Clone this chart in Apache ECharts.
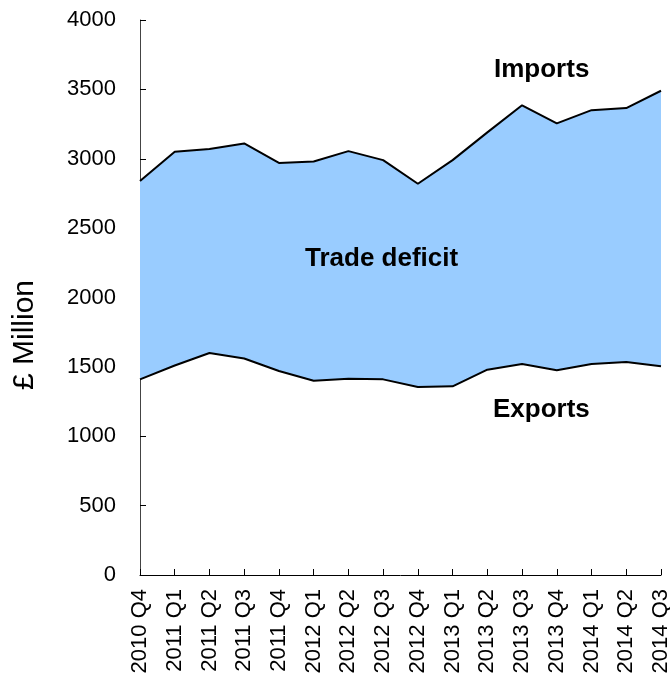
<!DOCTYPE html>
<html>
<head>
<meta charset="utf-8"/>
<script src="https://cdn.jsdelivr.net/npm/echarts@6/dist/echarts.min.js"></script>
<style>html,body{margin:0;padding:0;background:#fff}#chart{width:670px;height:684px}</style>
</head>
<body>
<div id="chart"></div>
<script>
var quarters = ['2010 Q4','2011 Q1','2011 Q2','2011 Q3','2011 Q4','2012 Q1','2012 Q2','2012 Q3','2012 Q4','2013 Q1','2013 Q2','2013 Q3','2013 Q4','2014 Q1','2014 Q2','2014 Q3'];
var imports = [2840,3050,3070,3110,2970,2980,3055,2990,2820,2990,3190,3385,3255,3350,3365,3490];
var exports = [1410,1510,1600,1560,1470,1400,1415,1410,1355,1360,1480,1520,1475,1520,1535,1505];
var deficit = imports.map(function (v, i) { return v - exports[i]; });

var font = 'Liberation Sans, Arial, sans-serif';
var chart = echarts.init(document.getElementById('chart'));
chart.setOption({
    animation: false,
    grid: {left: 140, right: 9, top: 20, bottom: 109, outerBoundsMode: 'none'},
    xAxis: {
        type: 'category', data: quarters, boundaryGap: false,
        axisLine: {lineStyle: {color: '#000'}},
        axisTick: {show: true, inside: true, length: 6, lineStyle: {color: '#000'}},
        axisLabel: {rotate: 90, color: '#000', fontSize: 22, fontFamily: font, interval: 0, margin: 14}
    },
    yAxis: {
        type: 'value', min: 0, max: 4000, interval: 500,
        axisLine: {show: true, lineStyle: {color: '#444'}},
        axisTick: {show: true, inside: true, length: 6, lineStyle: {color: '#000'}},
        axisLabel: {color: '#000', fontSize: 22, fontFamily: font, margin: 24,
                    formatter: function (v) { return String(v); }},
        splitLine: {show: false}
    },
    series: [
        {type: 'line', data: exports, stack: 'a', symbol: 'none', lineStyle: {width: 0}, z: 1},
        {type: 'line', data: deficit, stack: 'a', symbol: 'none', lineStyle: {width: 0},
         areaStyle: {color: '#99CCFF', opacity: 1}, z: 1},
        {type: 'line', data: imports, symbol: 'none', lineStyle: {color: '#000', width: 2}, z: 3},
        {type: 'line', data: exports, symbol: 'none', lineStyle: {color: '#000', width: 2}, z: 3}
    ],
    graphic: [
        {type: 'text', z: 100, x: 25, y: 335, rotation: Math.PI / 2,
         style: {text: '£ Million', font: '30px ' + font, fill: '#000', align: 'center', verticalAlign: 'middle'}},
        {type: 'text', z: 100, left: 494, top: 57, style: {text: 'Imports', font: 'bold 26px ' + font, fill: '#000'}},
        {type: 'text', z: 100, left: 305, top: 246, style: {text: 'Trade deficit', font: 'bold 26px ' + font, fill: '#000'}},
        {type: 'text', z: 100, left: 493, top: 397, style: {text: 'Exports', font: 'bold 26px ' + font, fill: '#000'}}
    ]
});
</script>
</body>
</html>
